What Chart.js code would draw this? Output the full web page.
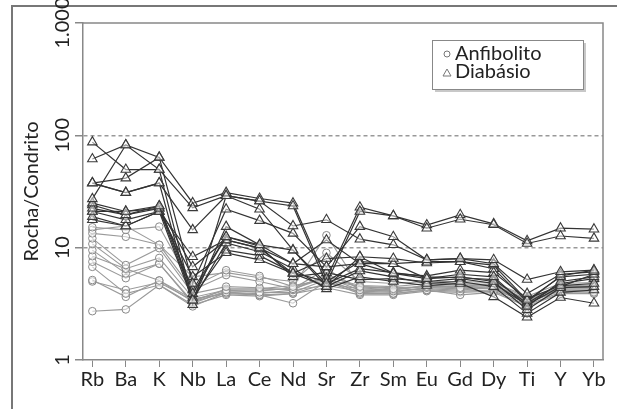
<!DOCTYPE html>
<html>
<head>
<meta charset="utf-8">
<script src="https://cdn.jsdelivr.net/npm/chart.js@4"></script>
<style>
  html, body { margin: 0; padding: 0; background: #fff; }
  #wrap { position: relative; width: 617px; height: 409px; }
  #frame { position: absolute; left: 11px; top: 5px; right: 0; bottom: 0;
           border-left: 2px solid #777; border-top: 2px solid #777; }
  #chart { position: absolute; left: 0; top: 0; }
</style>
</head>
<body>
<div id="wrap">
  <div id="frame"></div>
  <canvas id="chart" width="617" height="409"></canvas>
</div>
<script>
const elements = ['Rb', 'Ba', 'K', 'Nb', 'La', 'Ce', 'Nd', 'Sr', 'Zr', 'Sm', 'Eu', 'Gd', 'Dy', 'Ti', 'Y', 'Yb'];
const yTicks = [1, 10, 100, 1000];
const yTickLabels = ['1', '10', '100', '1.000'];

// rocha/condrito, one row per sample
const anfibolito = [
  [15.2, 14.4, 15.4, 4.5, 6.3, 5.6, 4.5, 12.9, 4.5, 4.3, 4.5, 4.4, 4.5, 3.3, 4.6, 4.5],
  [13.4, 12.5, 10.6, 4.2, 5.7, 5.0, 4.3, 6.5, 4.2, 4.1, 4.4, 4.3, 4.4, 3.2, 4.3, 4.3],
  [12.1, 7.0, 9.9, 3.9, 4.5, 4.4, 4.2, 5.8, 4.4, 4.2, 4.6, 4.7, 4.6, 3.5, 4.5, 4.4],
  [10.8, 6.5, 8.1, 3.6, 4.2, 4.0, 4.0, 5.2, 4.0, 3.9, 4.2, 4.1, 4.2, 3.3, 4.1, 4.0],
  [9.5, 5.9, 7.2, 3.3, 4.0, 3.8, 3.2, 5.0, 3.9, 3.9, 4.2, 3.8, 4.0, 3.0, 3.9, 3.9],
  [8.4, 6.5, 5.1, 3.5, 3.9, 3.8, 3.9, 4.8, 4.3, 4.2, 4.6, 4.5, 4.8, 3.6, 4.4, 4.6],
  [7.5, 5.35, 7.2, 3.2, 4.1, 4.1, 4.4, 5.5, 4.6, 4.5, 4.8, 4.8, 4.7, 3.4, 4.5, 4.7],
  [6.75, 3.9, 4.65, 3.0, 4.0, 3.9, 4.2, 4.6, 4.1, 4.0, 4.4, 4.6, 4.3, 3.2, 4.2, 4.1],
  [5.15, 3.65, 5.1, 3.3, 4.3, 4.3, 4.6, 5.2, 4.5, 4.4, 4.5, 4.5, 4.6, 3.4, 4.4, 4.4],
  [2.72, 2.82, 4.65, 3.1, 3.8, 3.7, 3.9, 4.4, 3.8, 3.8, 4.1, 4.0, 4.1, 3.1, 4.0, 3.9],
  [14.4, 15.6, 10.6, 5.5, 6.0, 5.4, 5.0, 9.0, 5.0, 4.8, 5.0, 5.0, 4.9, 3.7, 4.8, 4.9],
  [5.0, 4.2, 4.9, 3.4, 4.2, 4.2, 4.3, 5.4, 4.2, 4.1, 4.3, 4.2, 4.4, 3.3, 4.2, 4.2]
];

const diabasio = [
  [87, 49.6, 49.6, 22.6, 29, 26, 23.5, 4.8, 21, 19.2, 14.9, 17.9, 16, 10.9, 12.7, 12.1],
  [61.5, 82, 63.6, 25, 30.9, 27.4, 24.9, 5.3, 22.9, 19.2, 15.9, 19.6, 16.3, 11.5, 14.9, 14.6],
  [37.6, 30.9, 37.6, 14.4, 29, 26, 15.6, 17.7, 11.9, 10.6, 7.8, 8.0, 7.8, 5.2, 6.1, 6.3],
  [37.6, 41.6, 63.6, 4.8, 22, 17.4, 13.4, 6.75, 15.4, 12.5, 7.8, 8.0, 7.2, 3.9, 5.8, 6.1],
  [27.2, 82, 49.6, 3.4, 15.4, 10.6, 9.5, 4.5, 8.3, 8.0, 7.3, 7.5, 7.0, 3.4, 5.5, 5.8],
  [24.9, 21, 23.5, 3.9, 12.5, 10.6, 7.2, 11.7, 7.2, 7.2, 5.3, 5.8, 5.5, 3.0, 5.0, 5.5],
  [22.4, 19.6, 22.4, 6.75, 11.7, 9.9, 5.9, 8.0, 8.3, 5.9, 5.6, 6.3, 6.0, 3.5, 4.6, 4.8],
  [21, 17.7, 21, 8.3, 11.7, 9.9, 7.2, 6.75, 7.2, 5.9, 5.3, 5.5, 5.0, 2.8, 4.4, 4.5],
  [18.9, 15.6, 21, 5.5, 9.0, 7.8, 5.9, 4.5, 6.2, 5.5, 4.8, 5.0, 4.5, 2.6, 4.0, 4.2],
  [17.7, 15.6, 21, 3.4, 11, 9.2, 6.5, 4.3, 5.5, 5.0, 4.6, 4.8, 3.65, 2.4, 3.6, 3.2],
  [37.6, 30.9, 37.6, 3.1, 29, 22, 9.5, 4.8, 6.5, 6.0, 5.5, 5.4, 5.2, 3.2, 4.8, 5.3],
  [24, 19.6, 23.5, 4.2, 12.5, 10.3, 5.5, 6.0, 5.2, 5.3, 5.0, 5.3, 4.8, 3.1, 4.5, 5.8],
  [21, 21, 22.4, 3.6, 9.5, 8.5, 6.0, 5.0, 7.5, 7.2, 7.5, 7.5, 6.5, 3.3, 5.6, 6.3]
];

const toPoints = row => row.map((v, i) => ({ x: i, y: v }));

const datasets = [];
diabasio.forEach(row => datasets.push({
  label: 'Diabásio',
  data: toPoints(row),
  borderColor: '#333',
  borderWidth: 1.2,
  pointStyle: 'triangle',
  pointRadius: 5.5,
  pointBorderColor: '#3a3a3a',
  pointBackgroundColor: 'rgba(255,255,255,0.5)',
  pointBorderWidth: 1.1,
  order: 1
}));
anfibolito.forEach(row => datasets.push({
  label: 'Anfibolito',
  data: toPoints(row),
  borderColor: '#9a9a9a',
  borderWidth: 1.1,
  pointStyle: 'circle',
  pointRadius: 3.8,
  pointBorderColor: '#888',
  pointBackgroundColor: 'rgba(255,255,255,0.5)',
  pointBorderWidth: 1,
  order: 2
}));

const FONT = 'Lato, "DejaVu Sans", sans-serif';

// box on top/right, rotated y labels and the legend
const extras = {
  id: 'extras',
  afterDraw(chart) {
    const ctx = chart.ctx;
    const a = chart.chartArea;
    const s = chart.scales.y;
    ctx.save();
    ctx.strokeStyle = '#888';
    ctx.lineWidth = 1.5;
    ctx.beginPath();
    ctx.moveTo(a.left, a.top);
    ctx.lineTo(a.right, a.top);
    ctx.lineTo(a.right, a.bottom);
    ctx.stroke();

    ctx.fillStyle = '#222';
    ctx.font = '20px ' + FONT;
    ctx.textAlign = 'center';
    ctx.textBaseline = 'middle';
    yTicks.forEach((v, i) => {
      ctx.save();
      ctx.translate(63, s.getPixelForValue(v));
      ctx.rotate(-Math.PI / 2);
      ctx.fillText(yTickLabels[i], 0, 0);
      ctx.restore();
    });

    // legend
    const bx = 432, by = 40, bw = 151, bh = 49;
    ctx.fillStyle = '#c8c8c8';
    ctx.fillRect(bx + 3, by + 3, bw, bh);
    ctx.fillStyle = '#fff';
    ctx.fillRect(bx, by, bw, bh);
    ctx.strokeStyle = '#888';
    ctx.lineWidth = 1;
    ctx.strokeRect(bx + 0.5, by + 0.5, bw, bh);

    ctx.strokeStyle = '#777';
    ctx.beginPath();
    ctx.arc(447, 54, 3, 0, Math.PI * 2);
    ctx.stroke();
    ctx.beginPath();
    ctx.moveTo(447, 69);
    ctx.lineTo(451, 76);
    ctx.lineTo(443, 76);
    ctx.closePath();
    ctx.stroke();

    ctx.fillStyle = '#222';
    ctx.font = '20px ' + FONT;
    ctx.textAlign = 'left';
    ctx.fillText('Anfibolito', 455, 54);
    ctx.fillText('Diabásio', 455, 72);
    ctx.restore();
  }
};

new Chart(document.getElementById('chart').getContext('2d'), {
  type: 'line',
  data: { datasets },
  plugins: [extras],
  options: {
    responsive: false,
    animation: false,
    layout: { padding: { top: 23, right: 14, left: 0, bottom: 0 } },
    plugins: { legend: { display: false }, tooltip: { enabled: false } },
    scales: {
      x: {
        type: 'linear',
        min: -0.28,
        max: 15.27,
        afterBuildTicks: s => { s.ticks = elements.map((e, i) => ({ value: i })); },
        afterFit: s => { s.height = 49; },
        grid: { drawOnChartArea: false, drawTicks: true, tickLength: 7, tickColor: '#888' },
        border: { color: '#888', width: 1.5 },
        ticks: {
          autoSkip: false,
          maxRotation: 0,
          padding: 1,
          color: '#222',
          font: { family: FONT, size: 20 },
          callback: v => elements[v]
        }
      },
      y: {
        type: 'logarithmic',
        min: 1,
        max: 1000,
        afterBuildTicks: s => { s.ticks = yTicks.map(v => ({ value: v })); },
        afterFit: s => { s.width = 83; },
        grid: {
          drawTicks: true,
          tickLength: 8,
          tickColor: '#888',
          tickBorderDash: [],
          color: c => (c.tick && (c.tick.value === 10 || c.tick.value === 100)) ? '#999' : 'rgba(0,0,0,0)',
          lineWidth: 1.5
        },
        border: { color: '#888', width: 1.5, dash: [4, 3] },
        ticks: { display: false },
        title: {
          display: true,
          text: 'Rocha/Condrito',
          color: '#222',
          font: { family: FONT, size: 20 },
          padding: { top: 20, bottom: 0 }
        }
      }
    }
  }
});
</script>
</body>
</html>
